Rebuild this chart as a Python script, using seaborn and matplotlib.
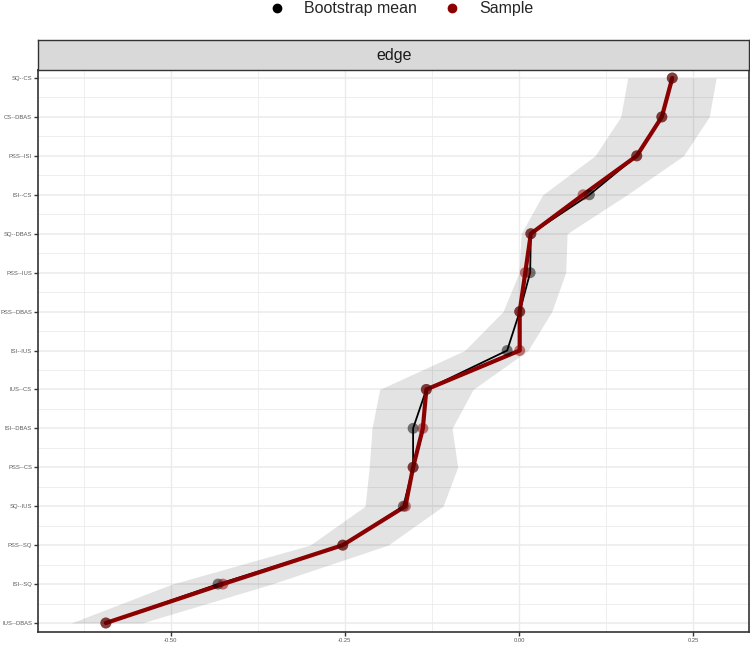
import numpy as np
import pandas as pd
import matplotlib
matplotlib.use("Agg")
import matplotlib.pyplot as plt
from matplotlib.lines import Line2D
import seaborn as sns

# ---------------- data ----------------
edges = ["SQ--CS", "CS--DBAS", "PSS--ISI", "ISI--CS", "SQ--DBAS", "PSS--IUS",
         "PSS--DBAS", "ISI--IUS", "IUS--CS", "ISI--DBAS", "PSS--CS", "SQ--IUS",
         "PSS--SQ", "ISI--SQ", "IUS--DBAS"]
sample = [0.220, 0.205, 0.169, 0.092, 0.017, 0.009, 0.001, 0.001, -0.133,
          -0.138, -0.152, -0.163, -0.253, -0.425, -0.593]
boot_mean = [0.220, 0.205, 0.169, 0.101, 0.017, 0.016, 0.001, -0.017, -0.133,
             -0.152, -0.152, -0.166, -0.253, -0.432, -0.593]
ci_lower = [0.156, 0.146, 0.109, 0.034, 0.003, 0.000, -0.023, -0.078, -0.200,
            -0.211, -0.215, -0.221, -0.300, -0.498, -0.643]
ci_upper = [0.283, 0.273, 0.236, 0.155, 0.069, 0.067, 0.047, 0.013, -0.066,
            -0.096, -0.088, -0.109, -0.188, -0.355, -0.541]
x_ticks = [-0.50, -0.25, 0.00, 0.25]
x_tick_labels = ["-0.50", "-0.25", "0.00", "0.25"]

pos = list(range(len(edges)))
df = pd.DataFrame({
    "edge": edges * 2,
    "pos": pos * 2,
    "value": boot_mean + sample,
    "type": ["Bootstrap mean"] * len(edges) + ["Sample"] * len(edges),
})

# ---------------- figure ----------------
sns.set_theme(style="white")
plt.rcParams["font.family"] = ["Liberation Sans", "DejaVu Sans"]

W, H = 750, 645
fig = plt.figure(figsize=(W / 100, H / 100), dpi=100)
left_px, right_px = 38.3, 749.3
top_px, bot_px = 70.0, 631.5
strip_top = 40.3
ax = fig.add_axes([left_px / W, 1 - bot_px / H, (right_px - left_px) / W, (bot_px - top_px) / H])
sax = fig.add_axes([left_px / W, 1 - top_px / H, (right_px - left_px) / W, (top_px - strip_top) / H])

grid_c = "#EBEBEB"
# gridlines
for xv in [-0.625, -0.5, -0.375, -0.25, -0.125, 0.0, 0.125, 0.25]:
    ax.axvline(xv, color=grid_c, lw=1.0 if xv in x_ticks else 0.6, zorder=0)
for p in pos:
    ax.axhline(p, color=grid_c, lw=1.1, zorder=0)
    if p < len(pos) - 1:
        ax.axhline(p + 0.5, color=grid_c, lw=0.6, zorder=0)

# ribbon
ax.fill_betweenx(pos, ci_lower, ci_upper, color="black", alpha=0.11, lw=0, zorder=1)

palette = {"Bootstrap mean": "black", "Sample": "#8B0000"}
sub_b = df[df["type"] == "Bootstrap mean"]
sub_s = df[df["type"] == "Sample"]
sns.lineplot(data=sub_b, x="value", y="pos", sort=False, estimator=None,
             color="black", lw=1.3, ax=ax, zorder=2, legend=False)
sns.lineplot(data=sub_s, x="value", y="pos", sort=False, estimator=None,
             color="#8B0000", lw=3.0, ax=ax, zorder=3, legend=False)
sns.scatterplot(data=df, x="value", y="pos", hue="type", palette=palette,
                s=62, alpha=0.5, linewidth=0, ax=ax, zorder=4, legend=False)

ax.set_xlim((left_px - 519) / 696.7, (right_px - 519) / 696.7)
ax.set_ylim(14 + (bot_px - 623) / 38.93, -(78 - top_px) / 38.93)
ax.set_xticks(x_ticks)
ax.set_xticklabels(x_tick_labels)
ax.set_yticks(pos)
ax.set_yticklabels(edges)
ax.set_xlabel("")
ax.set_ylabel("")
ax.tick_params(axis="both", which="major", direction="out", length=3, width=1.0,
               color="#333333", labelsize=4.2, labelcolor="#5A5A5A", pad=1.5,
               left=True, bottom=True)
for sp in ax.spines.values():
    sp.set_color("#333333")
    sp.set_linewidth(1.2)
ax.grid(False)

# strip
sax.set_facecolor("#D9D9D9")
sax.set_xticks([])
sax.set_yticks([])
for sp in sax.spines.values():
    sp.set_color("#333333")
    sp.set_linewidth(1.0)
sax.text(0.5, 0.5, "edge", ha="center", va="center", fontsize=11.5,
         color="#1A1A1A", transform=sax.transAxes)

# legend
handles = [Line2D([], [], ls="none", marker="o", color="black", markersize=6),
           Line2D([], [], ls="none", marker="o", color="#8B0000", markersize=6)]
fig.legend(handles, ["Bootstrap mean", "Sample"], loc="center",
           bbox_to_anchor=(400 / W, 1 - 9 / H), ncol=2, frameon=False,
           fontsize=11.5, handletextpad=1.1, columnspacing=1.6, handlelength=1.2)

fig.savefig("out.png", dpi=100)
